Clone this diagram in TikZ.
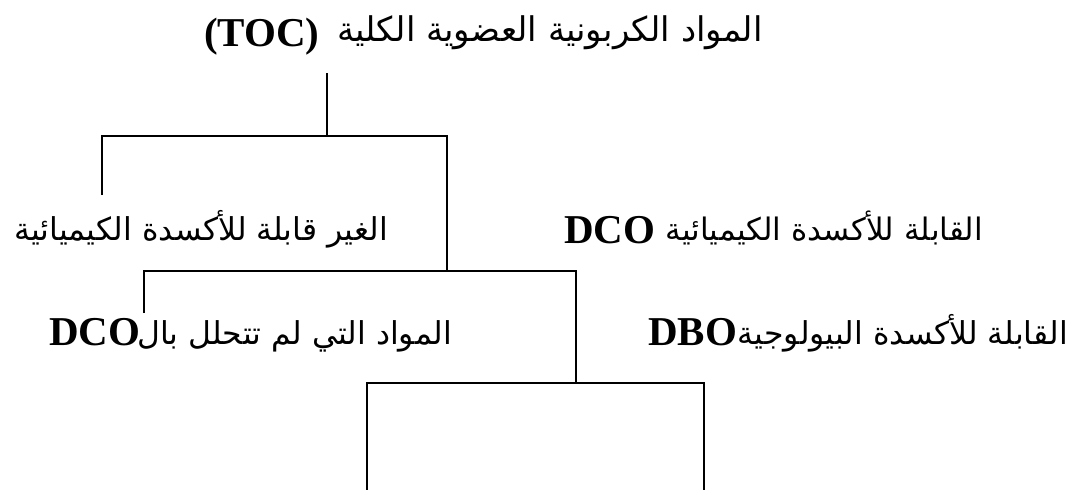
\documentclass[tikz,border=0pt]{standalone}
\usepackage{fontspec}
\setmainfont{Liberation Serif}
\newfontfamily\arfont[Script=Arabic]{DejaVu Sans}
\TeXXeTstate=1
\tikzset{
  ln/.style={line width=1.8pt, line join=miter},
  lat/.style={inner sep=0pt, font=\fontsize{41}{45}\selectfont\bfseries},
  ar/.style={inner sep=0pt, font=\fontsize{31.5}{36}\arfont},
  arsmall/.style={inner sep=0pt, font=\fontsize{31}{35}\arfont},
  artitle/.style={inner sep=0pt, font=\fontsize{34}{38}\arfont},
}
\begin{document}
\begin{tikzpicture}[x=1pt,y=-1pt]
\useasboundingbox[fill=white] (0,0) rectangle (1080,490);
% title
\node[lat, anchor=base west] (tocL) at (204,46) {(TOC)};
\node[artitle, anchor=base east] (tocA) at (763,41) {\beginR المواد الكربونية العضوية الكلية\endR};
% level 1
\node[ar, anchor=base east] (nonox) at (388,240) {\beginR الغير قابلة للأكسدة الكيميائية\endR};
\node[lat, anchor=base west] (dcoL) at (564,243) {DCO};
\node[arsmall, anchor=base east] (dcoA) at (983,240) {\beginR القابلة للأكسدة الكيميائية\endR};
% level 2
\node[lat, anchor=base west] (remL) at (49,345) {DCO};
\node[ar, anchor=base east] (remA) at (452,344) {\beginR المواد التي لم تتحلل بال\endR};
\node[lat, anchor=base west] (dboL) at (648,345) {DBO};
\node[ar, anchor=base east] (dboA) at (1068,344) {\beginR القابلة للأكسدة البيولوجية\endR};
% junctions
\coordinate (t0) at (327,73);
\coordinate (j1) at (327,136);
\coordinate (a1) at (102,136); \coordinate (a1e) at (102,195);
\coordinate (b1) at (447,136); \coordinate (j2) at (447,271);
\coordinate (a2) at (144,271); \coordinate (a2e) at (144,313);
\coordinate (b2) at (576,271); \coordinate (j3) at (576,383);
\coordinate (a3) at (367,383); \coordinate (a3e) at (367,490);
\coordinate (b3) at (704,383); \coordinate (b3e) at (704,490);
\draw[ln] (t0) -- (j1);
\draw[ln] (a1e) -- (a1) -- (b1) -- (j2);
\draw[ln] (a2e) -- (a2) -- (b2) -- (j3);
\draw[ln] (a3e) -- (a3) -- (b3) -- (b3e);
\end{tikzpicture}
\end{document}
